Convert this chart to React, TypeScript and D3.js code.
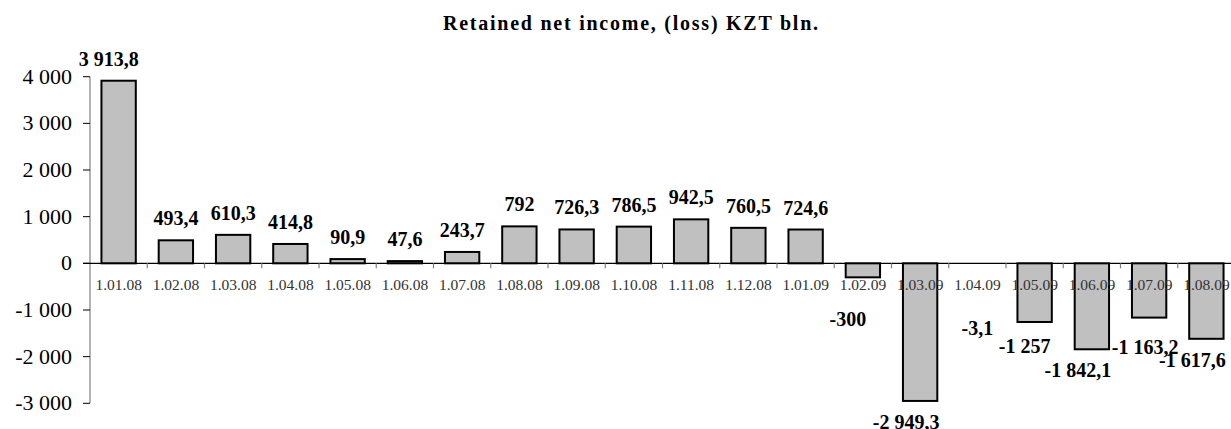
import React from "react";
import * as d3 from "d3";

const categories = [
  "1.01.08", "1.02.08", "1.03.08", "1.04.08", "1.05.08", "1.06.08", "1.07.08",
  "1.08.08", "1.09.08", "1.10.08", "1.11.08", "1.12.08", "1.01.09", "1.02.09",
  "1.03.09", "1.04.09", "1.05.09", "1.06.09", "1.07.09", "1.08.09",
];

const values = [
  3913.8, 493.4, 610.3, 414.8, 90.9, 47.6, 243.7, 792, 726.3, 786.5, 942.5,
  760.5, 724.6, -300, -2949.3, -3.1, -1257, -1842.1, -1163.2, -1617.6,
];

const yTicks = [-3000, -2000, -1000, 0, 1000, 2000, 3000, 4000];

const title = "Retained net income, (loss) KZT bln.";

// layout-only nudges for the data labels (dx, dy), as placed in the original
const labelNudgeX = [-10, 0, 0, 0, 0, 0, 0, 0, 0, 0, 0, 0, 0, -15, -14, 0, -10, -14, -4, -14];
const labelNudgeY = [0, 0, 0, 0, 0, 0, 0, 0, 0, 0, 0, 0, 0, 21, 0, 44, 3, 0, 8, 0];

const W = 1231;
const H = 429;
const FONT = "'Liberation Serif', 'Times New Roman', serif";

const locale = d3.formatLocale({
  decimal: ",",
  thousands: " ",
  grouping: [3],
  currency: ["", ""],
  minus: "-",
});
const fmtVal = locale.format(",.1~f");
const fmtTick = locale.format(",d");

export default function App() {
  const left = 90;
  const step = 57.25;
  const x = d3
    .scaleBand<string>()
    .domain(categories)
    .range([left, left + step * categories.length])
    .paddingInner(0.4)
    .paddingOuter(0.2);
  const y = d3.scaleLinear().domain([-3000, 4000]).range([403.3, 76.7]);
  const bw = x.bandwidth();
  const st = x.step();
  const y0 = y(0);

  return (
    <div style={{ position: "absolute", left: 0, top: 0 }}>
      <svg width={W} height={H} style={{ display: "block", background: "#fff" }}>
        <rect x={0} y={0} width={W} height={H} fill="#fff" />
        <text
          x={630.5}
          y={30}
          textAnchor="middle"
          fontFamily={FONT}
          fontWeight="bold"
          fontSize={20}
          textLength={375}
          lengthAdjust="spacing"
          fill="#000"
        >
          {title}
        </text>

        {/* y axis */}
        <line x1={left} x2={left} y1={y(4000)} y2={y(-3000)} stroke="#808080" strokeWidth={1.2} />
        {yTicks.map((t) => (
          <g key={t}>
            <line x1={left - 7} x2={left} y1={y(t)} y2={y(t)} stroke="#000" strokeWidth={1} />
            <text
              x={72}
              y={y(t) + 7}
              textAnchor="end"
              fontFamily={FONT}
              fontSize={22}
              fill="#000"
            >
              {fmtTick(t)}
            </text>
          </g>
        ))}

        {/* bars */}
        {values.map((v, i) => {
          const c = categories[i];
          const top = Math.min(y(v), y0);
          const h = Math.abs(y(v) - y0);
          return (
            <rect
              key={c}
              x={x(c)!}
              y={top}
              width={bw}
              height={h}
              fill="#c0c0c0"
              stroke={h > 0.5 ? "#000" : "none"}
              strokeWidth={2}
            />
          );
        })}

        {/* zero line */}
        <line x1={left - 7} x2={W} y1={y0} y2={y0} stroke="#000" strokeWidth={1.2} />
        {categories.map((c) => {
          const bx = x(c)! + bw / 2 + st / 2;
          return (
            <line key={"t" + c} x1={bx} x2={bx} y1={y0} y2={y0 + 5} stroke="#808080" strokeWidth={1.2} />
          );
        })}

        {/* category labels */}
        {categories.map((c) => (
          <text
            key={"c" + c}
            x={x(c)! + bw / 2}
            y={290}
            textAnchor="middle"
            fontFamily={FONT}
            fontSize={15.5}
            fill="#333"
          >
            {c}
          </text>
        ))}

        {/* value labels */}
        {values.map((v, i) => {
          const c = categories[i];
          const cx = x(c)! + bw / 2 + labelNudgeX[i];
          const ly = (v >= 0 ? y(v) - 15 : y(v) + 28) + labelNudgeY[i];
          return (
            <text
              key={"v" + c}
              x={cx}
              y={ly}
              textAnchor="middle"
              fontFamily={FONT}
              fontWeight="bold"
              fontSize={20}
              fill="#000"
            >
              {fmtVal(v)}
            </text>
          );
        })}
      </svg>
    </div>
  );
}
